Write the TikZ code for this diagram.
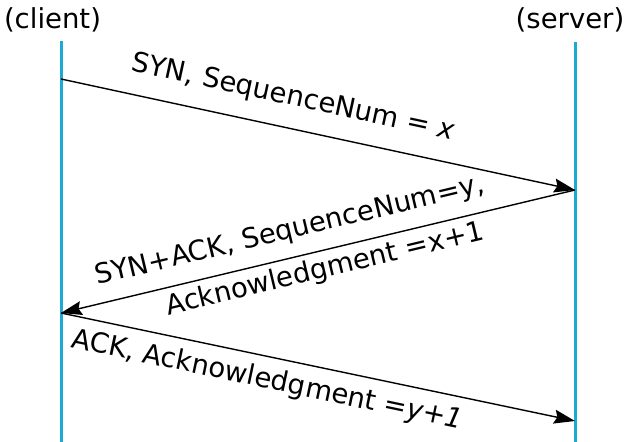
\documentclass[tikz,border=0pt]{standalone}
\usepackage{fontspec}
\setmainfont{DejaVu Sans}
\usetikzlibrary{arrows.meta}
\definecolor{lifecol}{HTML}{1AAAD2}
\begin{document}
\begin{tikzpicture}[x=1pt,y=1pt,
  lifeline/.style={draw=lifecol,line width=3pt},
  msg/.style={draw=black,line width=1.4pt,-{Stealth[length=21pt,width=14pt,inset=3pt]}},
  lbl/.style={font=\fontsize{27.5}{33}\selectfont,inner sep=0pt,outer sep=0pt,anchor=base,sloped},
  hdr/.style={font=\fontsize{27.5}{33}\selectfont,inner sep=0pt,outer sep=0pt,anchor=base}]
\useasboundingbox (0,0) rectangle (627,442);
\node[hdr] (client) at (52.5,413.5) {(client)};
\node[hdr] (server) at (570,413.5) {(server)};
\coordinate (ctop) at (61,400.5);
\coordinate (cbot) at (61,0);
\coordinate (stop) at (575,400);
\coordinate (sbot) at (575,0);
\draw[lifeline] (ctop) -- (cbot);
\draw[lifeline] (stop) -- (sbot);
\coordinate (c1) at (61,363);
\coordinate (s1) at (575,252);
\coordinate (c2) at (61,129);
\coordinate (s2) at (575,21);
\draw[msg] (c1) -- node[lbl,pos=0.439,yshift=23pt] {SYN, SequenceNum = \textit{x}} (s1);
\draw[msg] (s1) -- node[lbl,pos=0.543,yshift=18.8pt] {SYN+ACK, SequenceNum=y,}
                    node[lbl,pos=0.495,yshift=-27pt] {Acknowledgment =x+1} (c2);
\draw[msg] (c2) -- node[lbl,pos=0.411,yshift=-31.4pt] {ACK, Acknowledgment =\textit{y+1}} (s2);
\end{tikzpicture}
\end{document}
